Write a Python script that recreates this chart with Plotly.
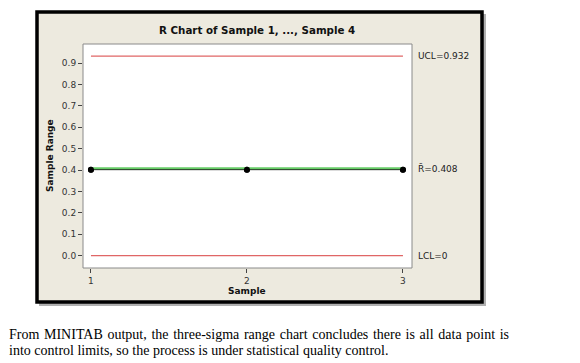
import plotly.graph_objects as go

samples = [1, 2, 3]
ranges = [0.402, 0.402, 0.402]
ucl = 0.932
rbar = 0.408
lcl = 0.0
y_ticks = [0.0, 0.1, 0.2, 0.3, 0.4, 0.5, 0.6, 0.7, 0.8, 0.9]
x_ticks = [1, 2, 3]
line1 = "From MINITAB output, the three-sigma range chart concludes there is all data point is"
line2 = "into control limits, so the process is under statistical quality control."

W, H = 580, 363
L, R, T, B = 83, 412, 44, 268

def px(x):
    return (x - L) / (R - L)

def py(y):
    return (B - y) / (B - T)

fig = go.Figure()

fig.add_trace(go.Scatter(x=[samples[0], samples[-1]], y=[ucl, ucl], mode="lines",
                         line=dict(color="#E06666", width=1.3), hoverinfo="skip"))
fig.add_trace(go.Scatter(x=[samples[0], samples[-1]], y=[lcl, lcl], mode="lines",
                         line=dict(color="#E06666", width=1.3), hoverinfo="skip"))
fig.add_trace(go.Scatter(x=samples, y=ranges, mode="lines+markers",
                         line=dict(color="#000000", width=1),
                         marker=dict(color="#000000", size=6)))
fig.add_trace(go.Scatter(x=[samples[0], samples[-1]], y=[rbar, rbar], mode="lines",
                         line=dict(color="#66CC66", width=2), hoverinfo="skip"))
fig.add_trace(go.Scatter(x=samples, y=ranges, mode="markers",
                         marker=dict(color="#000000", size=6)))

shapes = [
    dict(type="rect", xref="paper", yref="paper", x0=px(39), x1=px(486), y0=py(306), y1=py(14),
         fillcolor="#B0B0B0", line=dict(width=0), layer="below"),
    dict(type="rect", xref="paper", yref="paper", x0=px(37), x1=px(482), y0=py(302), y1=py(12),
         fillcolor="#EDEADF", line=dict(color="#000000", width=3.5), layer="below"),
    dict(type="rect", xref="paper", yref="paper", x0=0, x1=1, y0=0, y1=1,
         fillcolor="#FFFFFF", line=dict(color="#8A8A8A", width=1), layer="below"),
]

lab_font = dict(family="DejaVu Sans", size=9, color="#222222")
annotations = [
    dict(text="UCL=0.932", x=px(416), y=ucl, xref="paper", yref="y", xanchor="left",
         yanchor="middle", showarrow=False, font=lab_font),
    dict(text="R\u0304=0.408", x=px(416), y=rbar, xref="paper", yref="y", xanchor="left",
         yanchor="middle", showarrow=False, font=lab_font),
    dict(text="LCL=0", x=px(416), y=lcl, xref="paper", yref="y", xanchor="left",
         yanchor="middle", showarrow=False, font=lab_font),
    dict(text="<b>R Chart of Sample 1, ..., Sample 4</b>", x=px(257), y=py(30), xref="paper",
         yref="paper", xanchor="center", yanchor="middle", showarrow=False,
         font=dict(family="DejaVu Sans", size=10.3, color="#111111")),
    dict(text="<b>Sample</b>", x=px(247), y=py(291), xref="paper", yref="paper",
         xanchor="center", yanchor="middle", showarrow=False,
         font=dict(family="DejaVu Sans", size=9, color="#111111")),
    dict(text="<b>Sample Range</b>", x=px(50), y=py(156), xref="paper", yref="paper",
         xanchor="center", yanchor="middle", showarrow=False, textangle=-90,
         font=dict(family="DejaVu Sans", size=9, color="#111111")),
    dict(text=line1.replace(" ", " \u200a"),
         x=px(7), y=py(334), xref="paper", yref="paper", xanchor="left", yanchor="middle",
         showarrow=False, font=dict(family="Liberation Serif", size=14, color="#000000")),
    dict(text=line2,
         x=px(7), y=py(350), xref="paper", yref="paper", xanchor="left", yanchor="middle",
         showarrow=False, font=dict(family="Liberation Serif", size=14, color="#000000")),
]

fig.update_layout(
    width=W, height=H,
    margin=dict(l=L, r=W - R, t=T, b=H - B),
    paper_bgcolor="#FFFFFF", plot_bgcolor="rgba(0,0,0,0)",
    showlegend=False,
    shapes=shapes, annotations=annotations,
    xaxis=dict(range=[0.949, 3.058], tickvals=x_ticks, ticktext=[str(v) for v in x_ticks],
               ticks="outside", ticklen=4, tickcolor="#444444", showgrid=False, zeroline=False,
               showline=False, tickfont=dict(family="DejaVu Sans", size=9, color="#333333")),
    yaxis=dict(range=[-0.0575, 0.989], tickvals=y_ticks, ticktext=[f"{v:.1f}" for v in y_ticks],
               ticks="outside", ticklen=4, tickcolor="#444444", showgrid=False, zeroline=False,
               showline=False, tickfont=dict(family="DejaVu Sans", size=9, color="#333333")),
)

fig.write_html("out.html", config={"displayModeBar": False},
               post_script="document.body.style.margin='0';")
